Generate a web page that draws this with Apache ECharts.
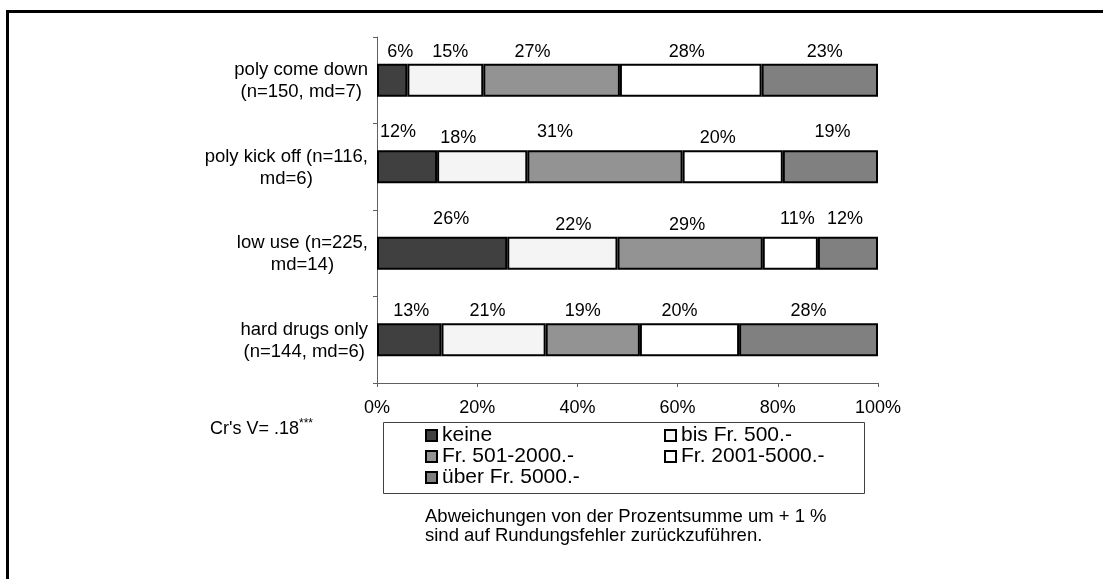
<!DOCTYPE html>
<html><head><meta charset="utf-8">
<script src="https://cdn.jsdelivr.net/npm/echarts@6/dist/echarts.min.js"></script>
<style>html,body{margin:0;padding:0;background:#fff}#c{width:1103px;height:579px}</style>
</head><body><div id="c"></div>
<script>
// ---- data ----
const categories = [
  'poly come down\n(n=150, md=7)',
  'poly kick off (n=116,\nmd=6)',
  'low use (n=225,\nmd=14)',
  'hard drugs only\n(n=144, md=6)'
];
const seriesNames = ['keine', 'bis Fr. 500.-', 'Fr. 501-2000.-', 'Fr. 2001-5000.-', 'über Fr. 5000.-'];
const keine      = [6, 12, 26, 13];
const bis500     = [15, 18, 22, 21];
const fr501_2000 = [27, 31, 29, 19];
const fr2001_5000= [28, 20, 11, 20];
const ueber5000  = [23, 19, 12, 28];
const xTickLabels = ['0%', '20%', '40%', '60%', '80%', '100%'];
const statText = "Cr's V= .18";
const statStars = '***';
const footnote = 'Abweichungen von der Prozentsumme um + 1 %\nsind auf Rundungsfehler zurückzuführen.';

// ---- style (not data): manual nudges of the value labels, per series, per row ----
const colors = ['#404040', '#f4f4f4', '#939393', '#ffffff', '#808080'];
const labelLift = [
  [0, 6, 6, 0],
  [0, 0, 0, 0],
  [0, 6, 0, 0],
  [0, 0, 6, 0],
  [0, 6, 6, 0]
];
const labelDx = [
  [8, -9, 9, 2],
  [5, -24, 11, -6],
  [-19, -50, -3, -10],
  [-4, -15, 7, -10],
  [5, 2, -3, 0]
];
const FONT = '"Liberation Sans", Arial, Helvetica, sans-serif';

const raw = [keine, bis500, fr501_2000, fr2001_5000, ueber5000];
const rowSum = categories.map((_, i) => raw.reduce((s, arr) => s + arr[i], 0));

const series = raw.map((arr, si) => ({
  name: seriesNames[si],
  type: 'bar',
  stack: 'total',
  barWidth: 33,
  itemStyle: { color: colors[si], borderColor: '#000', borderWidth: 2 },
  label: {
    show: true, position: 'top', distance: 3,
    fontFamily: FONT, fontSize: 18, color: '#000',
    formatter: p => arr[p.dataIndex] + '%'
  },
  data: arr.map((v, i) => ({
    value: v / rowSum[i] * 100,
    label: { offset: [labelDx[si][i], -labelLift[si][i]] }
  }))
}));

const chart = echarts.init(document.getElementById('c'), null, { renderer: 'canvas' });
chart.setOption({
  animation: false,
  backgroundColor: '#fff',
  textStyle: { fontFamily: FONT },
  grid: { left: 377, right: 225, top: 37, bottom: 196, containLabel: false },
  xAxis: {
    type: 'value', min: 0, max: 100, interval: 20,
    axisLine: { show: true, lineStyle: { color: '#606060', width: 1 } },
    axisTick: { show: true, length: 4, lineStyle: { color: '#606060' } },
    splitLine: { show: false },
    axisLabel: {
      margin: 16, fontSize: 18, color: '#000', fontFamily: FONT,
      formatter: v => xTickLabels[Math.round(v / 20)]
    }
  },
  yAxis: {
    type: 'category', inverse: true, data: categories,
    axisLine: { show: true, lineStyle: { color: '#606060', width: 1 } },
    axisTick: { show: true, length: 4, lineStyle: { color: '#606060' } },
    axisLabel: {
      margin: 9, color: '#000', fontFamily: FONT,
      formatter: v => v.split('\n').map(s => '{a|' + s + '}').join('\n'),
      rich: { a: { align: 'center', fontSize: 18.5, lineHeight: 22, fontFamily: FONT, color: '#000', padding: [2, 0, 0, 0] } }
    }
  },
  legend: {
    data: seriesNames,
    left: 425, top: 425, width: 480,
    orient: 'horizontal',
    itemGap: 0, itemWidth: 11, itemHeight: 11,
    icon: 'rect',
    padding: 0,
    selectedMode: false,
    textStyle: { fontSize: 21, lineHeight: 19, width: 222, color: '#000', fontFamily: FONT }
  },
  graphic: [
    { type: 'line', shape: { x1: 7.5, y1: 11.5, x2: 1103, y2: 11.5 }, style: { stroke: '#000', lineWidth: 3 } },
    { type: 'line', shape: { x1: 7.5, y1: 10, x2: 7.5, y2: 579 }, style: { stroke: '#000', lineWidth: 3 } },
    { type: 'rect', shape: { x: 383.5, y: 422.5, width: 481, height: 71 }, style: { fill: 'none', stroke: '#404040', lineWidth: 1 }, z: -1 },
    { type: 'text', left: 210, top: 418,
      style: { text: '{a|' + statText + '}{s|' + statStars + '}', fill: '#000',
        rich: { a: { fontSize: 18, lineHeight: 20, fontFamily: FONT, verticalAlign: 'bottom' },
                s: { fontSize: 12, lineHeight: 12, fontFamily: FONT, verticalAlign: 'top' } } } },
    { type: 'text', left: 425, top: 507,
      style: { text: footnote, fontSize: 18.5, lineHeight: 19, fontFamily: FONT, fill: '#000' } }
  ],
  series: series
});
</script>
</body></html>
